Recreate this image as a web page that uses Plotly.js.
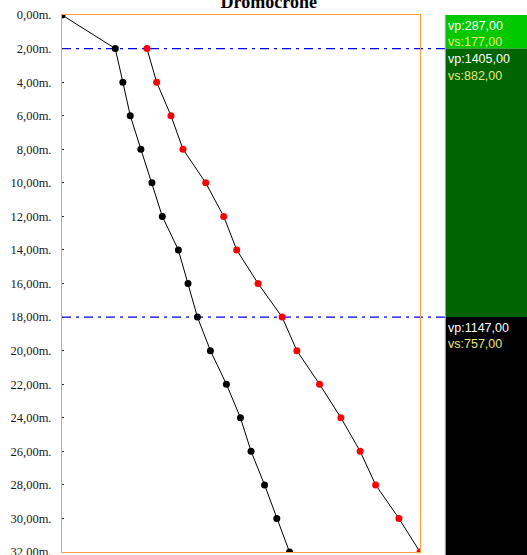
<!DOCTYPE html>
<html>
<head>
<meta charset="utf-8">
<script src="https://cdn.plot.ly/plotly-3.0.1.min.js"></script>
<style>
  html, body { margin: 0; padding: 0; background: #ffffff; }
  #chart { width: 527px; height: 555px; }
</style>
</head>
<body>
<div id="chart"></div>
<script>
// Depth of each geophone (m)
const depthP = [0, 2, 4, 6, 8, 10, 12, 14, 16, 18, 20, 22, 24, 26, 28, 30, 32];
// First-arrival times of P waves (ms)
const timeP = [0, 7.13, 8.15, 9.14, 10.56, 12.04, 13.43, 15.58, 16.87, 18.13,
               19.87, 22.01, 23.89, 25.31, 27.12, 28.76, 30.46];
// Depth and first-arrival times of S waves (ms)
const depthS = [2, 4, 6, 8, 10, 12, 14, 16, 18, 20, 22, 24, 26, 28, 30, 32];
const timeS = [11.37, 12.67, 14.59, 16.20, 19.24, 21.65, 23.39, 26.25, 29.47,
               31.44, 34.48, 37.34, 39.92, 41.99, 45.11, 47.93];

// Layer model: top depth, P and S velocities (m/s)
const layerTop = [0, 2, 18];
const layerVp = [287, 1405, 1147];
const layerVs = [177, 882, 757];
const layerColor = ['#00C800', '#006400', '#000000'];

// Depth axis ticks
const tickDepths = [0, 2, 4, 6, 8, 10, 12, 14, 16, 18, 20, 22, 24, 26, 28, 30, 32];
const tickLabels = ['0,00m.', '2,00m.', '4,00m.', '6,00m.', '8,00m.', '10,00m.',
  '12,00m.', '14,00m.', '16,00m.', '18,00m.', '20,00m.', '22,00m.', '24,00m.',
  '26,00m.', '28,00m.', '30,00m.', '32,00m.'];

const maxDepth = tickDepths[tickDepths.length - 1];
const fmt = v => v.toFixed(2).replace('.', ',');

const traces = [
  {
    x: timeP, y: depthP, type: 'scatter', mode: 'lines+markers',
    line: { color: '#000000', width: 1 },
    marker: { color: '#000000', size: 7 },
    hoverinfo: 'skip'
  },
  {
    x: timeS, y: depthS, type: 'scatter', mode: 'lines+markers',
    line: { color: '#000000', width: 1 },
    marker: { color: '#FF0000', size: 7 },
    hoverinfo: 'skip'
  }
];

// Side strip with one coloured band per layer
const stripLeft = 1.0707;
const stripRight = 1.35;
const shapes = [];
const annotations = [];
layerTop.forEach((top, i) => {
  const last = i === layerTop.length - 1;
  if (last) {
    // bottom band runs down to the edge of the page
    shapes.push({
      type: 'rect', xref: 'paper', yref: 'paper', layer: 'above',
      x0: stripLeft, x1: stripRight, y0: -0.05, y1: 1 - top / maxDepth,
      line: { width: 0 }, fillcolor: layerColor[i]
    });
  } else {
    shapes.push({
      type: 'rect', xref: 'paper', yref: 'y', layer: 'above',
      x0: stripLeft, x1: stripRight, y0: top, y1: layerTop[i + 1],
      line: { width: 0 }, fillcolor: layerColor[i]
    });
  }
  if (top > 0) {
    // dash-dot marker at each layer boundary
    shapes.push({
      type: 'line', xref: 'paper', yref: 'y', layer: 'below',
      x0: 0, x1: stripLeft, y0: top, y1: top,
      line: { color: '#0000FF', width: 1.2, dash: '9px,5px,3px,5px' }
    });
  }
  annotations.push({
    xref: 'paper', yref: 'y', x: stripLeft + 0.006, y: top,
    xanchor: 'left', yanchor: 'middle', yshift: -10.5, borderpad: 0,
    showarrow: false, text: 'vp:' + fmt(layerVp[i]),
    font: { family: 'Liberation Sans, Arial, sans-serif', size: 12.5, color: '#FFFFFF' }
  });
  annotations.push({
    xref: 'paper', yref: 'y', x: stripLeft + 0.006, y: top,
    xanchor: 'left', yanchor: 'middle', yshift: -27, borderpad: 0,
    showarrow: false, text: 'vs:' + fmt(layerVs[i]),
    font: { family: 'Liberation Sans, Arial, sans-serif', size: 12.5, color: '#E8E87A' }
  });
});
shapes.push({
  type: 'line', xref: 'paper', yref: 'paper', layer: 'above',
  x0: stripLeft, x1: stripLeft, y0: -0.05, y1: 1,
  line: { color: '#A8A8A8', width: 1 }
});

const layout = {
  width: 527, height: 555,
  margin: { l: 62, r: 107, t: 15, b: 3, pad: 0 },
  paper_bgcolor: '#FFFFFF',
  plot_bgcolor: 'rgba(0,0,0,0)',
  showlegend: false,
  title: {
    text: '<b>Dromocrone</b>',
    x: 0.51, xanchor: 'center',
    yref: 'container', y: 0.986, yanchor: 'bottom',
    font: { family: 'Liberation Serif, Times New Roman, serif', size: 18, color: '#000000' }
  },
  xaxis: {
    range: [0, timeS[timeS.length - 1]],
    showgrid: false, zeroline: false, showticklabels: false, ticks: '',
    showline: true, mirror: true, linecolor: '#FFA040', linewidth: 1
  },
  yaxis: {
    range: [maxDepth, 0],
    tickmode: 'array', tickvals: tickDepths, ticktext: tickLabels,
    ticks: 'inside', ticklen: 2, tickcolor: '#333333', tickwidth: 1,
    ticklabelstandoff: 7, ticklabeloverflow: 'allow',
    tickfont: { family: 'Liberation Serif, Times New Roman, serif', size: 12.5, color: '#1A1A1A' },
    showgrid: false, zeroline: false,
    showline: true, mirror: true, linecolor: '#FFA040', linewidth: 1
  },
  shapes: shapes,
  annotations: annotations
};

Plotly.newPlot('chart', traces, layout, { staticPlot: true, displayModeBar: false });
</script>
</body>
</html>
